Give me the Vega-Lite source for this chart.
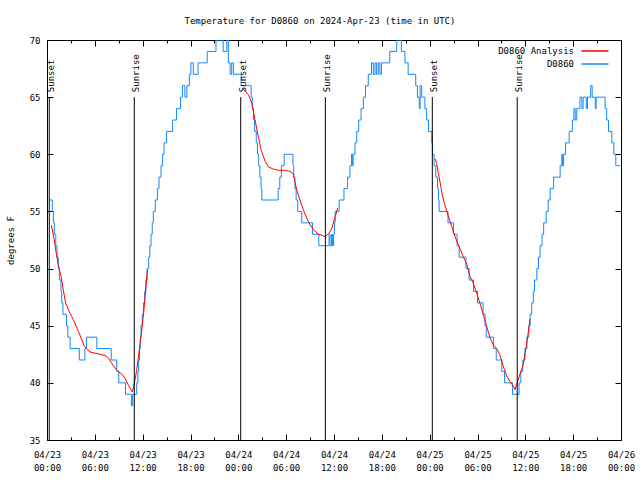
{
  "$schema": "https://vega.github.io/schema/vega-lite/v6.json",
  "width": 574,
  "height": 400,
  "autosize": {"type": "none"},
  "padding": {"left": 47, "top": 40, "right": 19, "bottom": 40},
  "background": "white",
  "title": {"text": "Temperature for D0860 on 2024-Apr-23 (time in UTC)", "font": "DejaVu Sans Mono", "fontSize": 9, "fontWeight": "normal", "color": "black", "anchor": "middle", "baseline": "alphabetic", "offset": 3, "dx": -14},
  "config": {
    "font": "DejaVu Sans Mono",
    "view": {"stroke": "black", "strokeWidth": 1},
    "axis": {"grid": false, "domain": false, "labelFont": "DejaVu Sans Mono", "labelFontSize": 9, "labelColor": "black", "tickColor": "black", "tickWidth": 1, "titleFont": "DejaVu Sans Mono", "titleFontSize": 9, "titleFontWeight": "normal", "titleColor": "black"},
    "legend": {"symbolType": "M-2.7,0H2.7", "symbolSize": 100, "symbolStrokeWidth": 1.5, "labelFont": "DejaVu Sans Mono", "labelFontSize": 9, "labelColor": "black", "padding": 0, "labelAlign": "right", "labelOffset": -27, "rowPadding": 2}
  },
  "datasets": {
    "obs": [
      {"time": "2024-04-23T00:20:00Z", "temp": 56}, {"time": "2024-04-23T00:40:00Z", "temp": 55}, {"time": "2024-04-23T00:48:00Z", "temp": 54}, {"time": "2024-04-23T00:55:00Z", "temp": 53},
      {"time": "2024-04-23T01:06:00Z", "temp": 52}, {"time": "2024-04-23T01:15:00Z", "temp": 51}, {"time": "2024-04-23T01:25:00Z", "temp": 50}, {"time": "2024-04-23T01:33:00Z", "temp": 49},
      {"time": "2024-04-23T01:45:00Z", "temp": 48}, {"time": "2024-04-23T01:51:00Z", "temp": 47}, {"time": "2024-04-23T02:00:00Z", "temp": 46}, {"time": "2024-04-23T02:27:00Z", "temp": 45},
      {"time": "2024-04-23T02:37:00Z", "temp": 44}, {"time": "2024-04-23T02:54:00Z", "temp": 43}, {"time": "2024-04-23T04:03:00Z", "temp": 42}, {"time": "2024-04-23T04:45:00Z", "temp": 43},
      {"time": "2024-04-23T04:57:00Z", "temp": 44}, {"time": "2024-04-23T06:15:00Z", "temp": 43}, {"time": "2024-04-23T08:03:00Z", "temp": 42}, {"time": "2024-04-23T08:45:00Z", "temp": 41},
      {"time": "2024-04-23T09:00:00Z", "temp": 40}, {"time": "2024-04-23T09:51:00Z", "temp": 39}, {"time": "2024-04-23T10:36:00Z", "temp": 38}, {"time": "2024-04-23T10:45:00Z", "temp": 39},
      {"time": "2024-04-23T11:15:00Z", "temp": 40}, {"time": "2024-04-23T11:24:00Z", "temp": 41}, {"time": "2024-04-23T11:30:00Z", "temp": 42}, {"time": "2024-04-23T11:36:00Z", "temp": 43},
      {"time": "2024-04-23T11:42:00Z", "temp": 44}, {"time": "2024-04-23T11:48:00Z", "temp": 45}, {"time": "2024-04-23T11:57:00Z", "temp": 46}, {"time": "2024-04-23T12:06:00Z", "temp": 47},
      {"time": "2024-04-23T12:15:00Z", "temp": 48}, {"time": "2024-04-23T12:24:00Z", "temp": 49}, {"time": "2024-04-23T12:33:00Z", "temp": 50}, {"time": "2024-04-23T12:45:00Z", "temp": 51},
      {"time": "2024-04-23T12:54:00Z", "temp": 52}, {"time": "2024-04-23T13:03:00Z", "temp": 53}, {"time": "2024-04-23T13:12:00Z", "temp": 54}, {"time": "2024-04-23T13:20:00Z", "temp": 55},
      {"time": "2024-04-23T13:35:00Z", "temp": 56}, {"time": "2024-04-23T13:51:00Z", "temp": 57}, {"time": "2024-04-23T14:03:00Z", "temp": 58}, {"time": "2024-04-23T14:18:00Z", "temp": 59},
      {"time": "2024-04-23T14:30:00Z", "temp": 60}, {"time": "2024-04-23T14:41:00Z", "temp": 61}, {"time": "2024-04-23T15:00:00Z", "temp": 62}, {"time": "2024-04-23T15:45:00Z", "temp": 63},
      {"time": "2024-04-23T16:15:00Z", "temp": 64}, {"time": "2024-04-23T16:45:00Z", "temp": 65}, {"time": "2024-04-23T16:59:00Z", "temp": 66}, {"time": "2024-04-23T17:18:00Z", "temp": 65},
      {"time": "2024-04-23T17:33:00Z", "temp": 66}, {"time": "2024-04-23T17:51:00Z", "temp": 67}, {"time": "2024-04-23T18:03:00Z", "temp": 68}, {"time": "2024-04-23T18:21:00Z", "temp": 67},
      {"time": "2024-04-23T18:57:00Z", "temp": 68}, {"time": "2024-04-23T20:06:00Z", "temp": 69}, {"time": "2024-04-23T21:12:00Z", "temp": 70}, {"time": "2024-04-23T22:06:00Z", "temp": 69},
      {"time": "2024-04-23T22:33:00Z", "temp": 70}, {"time": "2024-04-23T22:45:00Z", "temp": 68}, {"time": "2024-04-23T22:58:00Z", "temp": 67}, {"time": "2024-04-23T23:10:00Z", "temp": 68},
      {"time": "2024-04-23T23:23:00Z", "temp": 67},
      {"time": "2024-04-24T00:21:00Z", "temp": 66}, {"time": "2024-04-24T01:36:00Z", "temp": 65}, {"time": "2024-04-24T01:45:00Z", "temp": 64}, {"time": "2024-04-24T01:54:00Z", "temp": 63},
      {"time": "2024-04-24T02:03:00Z", "temp": 62}, {"time": "2024-04-24T02:15:00Z", "temp": 61}, {"time": "2024-04-24T02:24:00Z", "temp": 60}, {"time": "2024-04-24T02:33:00Z", "temp": 59},
      {"time": "2024-04-24T02:42:00Z", "temp": 58}, {"time": "2024-04-24T02:51:00Z", "temp": 57}, {"time": "2024-04-24T02:57:00Z", "temp": 56}, {"time": "2024-04-24T05:00:00Z", "temp": 57},
      {"time": "2024-04-24T05:12:00Z", "temp": 58}, {"time": "2024-04-24T05:24:00Z", "temp": 59}, {"time": "2024-04-24T05:45:00Z", "temp": 60}, {"time": "2024-04-24T06:51:00Z", "temp": 59},
      {"time": "2024-04-24T06:57:00Z", "temp": 58}, {"time": "2024-04-24T07:06:00Z", "temp": 57}, {"time": "2024-04-24T07:15:00Z", "temp": 56}, {"time": "2024-04-24T07:27:00Z", "temp": 55},
      {"time": "2024-04-24T07:57:00Z", "temp": 54}, {"time": "2024-04-24T09:18:00Z", "temp": 53}, {"time": "2024-04-24T10:06:00Z", "temp": 52}, {"time": "2024-04-24T11:23:00Z", "temp": 53},
      {"time": "2024-04-24T11:30:00Z", "temp": 52}, {"time": "2024-04-24T11:42:00Z", "temp": 53}, {"time": "2024-04-24T11:49:00Z", "temp": 52}, {"time": "2024-04-24T11:57:00Z", "temp": 53},
      {"time": "2024-04-24T12:03:00Z", "temp": 54}, {"time": "2024-04-24T12:09:00Z", "temp": 55}, {"time": "2024-04-24T12:39:00Z", "temp": 56}, {"time": "2024-04-24T13:15:00Z", "temp": 57},
      {"time": "2024-04-24T13:42:00Z", "temp": 58}, {"time": "2024-04-24T14:00:00Z", "temp": 59}, {"time": "2024-04-24T14:12:00Z", "temp": 60}, {"time": "2024-04-24T14:18:00Z", "temp": 59},
      {"time": "2024-04-24T14:24:00Z", "temp": 60}, {"time": "2024-04-24T14:38:00Z", "temp": 61}, {"time": "2024-04-24T14:51:00Z", "temp": 62}, {"time": "2024-04-24T15:06:00Z", "temp": 63},
      {"time": "2024-04-24T15:24:00Z", "temp": 64}, {"time": "2024-04-24T15:41:00Z", "temp": 65}, {"time": "2024-04-24T15:57:00Z", "temp": 66}, {"time": "2024-04-24T16:18:00Z", "temp": 67},
      {"time": "2024-04-24T16:42:00Z", "temp": 68}, {"time": "2024-04-24T16:56:00Z", "temp": 67}, {"time": "2024-04-24T17:09:00Z", "temp": 68}, {"time": "2024-04-24T17:21:00Z", "temp": 67},
      {"time": "2024-04-24T17:33:00Z", "temp": 68}, {"time": "2024-04-24T17:45:00Z", "temp": 67}, {"time": "2024-04-24T17:57:00Z", "temp": 68}, {"time": "2024-04-24T19:00:00Z", "temp": 69},
      {"time": "2024-04-24T19:52:00Z", "temp": 70}, {"time": "2024-04-24T20:27:00Z", "temp": 69}, {"time": "2024-04-24T20:54:00Z", "temp": 68}, {"time": "2024-04-24T21:18:00Z", "temp": 67},
      {"time": "2024-04-24T22:15:00Z", "temp": 66}, {"time": "2024-04-24T22:28:00Z", "temp": 65}, {"time": "2024-04-24T22:42:00Z", "temp": 64}, {"time": "2024-04-24T22:48:00Z", "temp": 66},
      {"time": "2024-04-24T23:00:00Z", "temp": 65}, {"time": "2024-04-24T23:24:00Z", "temp": 64}, {"time": "2024-04-24T23:37:00Z", "temp": 63}, {"time": "2024-04-24T23:51:00Z", "temp": 62},
      {"time": "2024-04-25T00:16:00Z", "temp": 61}, {"time": "2024-04-25T00:21:00Z", "temp": 60}, {"time": "2024-04-25T00:33:00Z", "temp": 59}, {"time": "2024-04-25T00:46:00Z", "temp": 58},
      {"time": "2024-04-25T00:59:00Z", "temp": 57}, {"time": "2024-04-25T01:06:00Z", "temp": 56}, {"time": "2024-04-25T01:11:00Z", "temp": 55}, {"time": "2024-04-25T02:18:00Z", "temp": 54},
      {"time": "2024-04-25T03:00:00Z", "temp": 53}, {"time": "2024-04-25T03:27:00Z", "temp": 52}, {"time": "2024-04-25T03:42:00Z", "temp": 51}, {"time": "2024-04-25T04:33:00Z", "temp": 50},
      {"time": "2024-04-25T04:57:00Z", "temp": 49}, {"time": "2024-04-25T05:30:00Z", "temp": 48}, {"time": "2024-04-25T06:00:00Z", "temp": 47}, {"time": "2024-04-25T06:42:00Z", "temp": 46},
      {"time": "2024-04-25T06:57:00Z", "temp": 45}, {"time": "2024-04-25T07:06:00Z", "temp": 44}, {"time": "2024-04-25T08:00:00Z", "temp": 43}, {"time": "2024-04-25T08:21:00Z", "temp": 42},
      {"time": "2024-04-25T09:03:00Z", "temp": 41}, {"time": "2024-04-25T09:24:00Z", "temp": 40}, {"time": "2024-04-25T10:24:00Z", "temp": 39}, {"time": "2024-04-25T11:13:00Z", "temp": 40},
      {"time": "2024-04-25T11:26:00Z", "temp": 41}, {"time": "2024-04-25T11:41:00Z", "temp": 42}, {"time": "2024-04-25T11:57:00Z", "temp": 43}, {"time": "2024-04-25T12:12:00Z", "temp": 44},
      {"time": "2024-04-25T12:27:00Z", "temp": 45}, {"time": "2024-04-25T12:36:00Z", "temp": 46}, {"time": "2024-04-25T12:48:00Z", "temp": 47}, {"time": "2024-04-25T13:00:00Z", "temp": 48},
      {"time": "2024-04-25T13:09:00Z", "temp": 49}, {"time": "2024-04-25T13:27:00Z", "temp": 50}, {"time": "2024-04-25T13:39:00Z", "temp": 51}, {"time": "2024-04-25T13:51:00Z", "temp": 52},
      {"time": "2024-04-25T14:06:00Z", "temp": 53}, {"time": "2024-04-25T14:18:00Z", "temp": 54}, {"time": "2024-04-25T14:37:00Z", "temp": 55}, {"time": "2024-04-25T14:52:00Z", "temp": 56},
      {"time": "2024-04-25T15:07:00Z", "temp": 57}, {"time": "2024-04-25T15:33:00Z", "temp": 58}, {"time": "2024-04-25T16:22:00Z", "temp": 59}, {"time": "2024-04-25T16:35:00Z", "temp": 60},
      {"time": "2024-04-25T16:39:00Z", "temp": 59}, {"time": "2024-04-25T16:48:00Z", "temp": 60}, {"time": "2024-04-25T17:03:00Z", "temp": 61}, {"time": "2024-04-25T17:30:00Z", "temp": 62},
      {"time": "2024-04-25T17:54:00Z", "temp": 63}, {"time": "2024-04-25T18:06:00Z", "temp": 64}, {"time": "2024-04-25T18:15:00Z", "temp": 63}, {"time": "2024-04-25T18:27:00Z", "temp": 64},
      {"time": "2024-04-25T18:51:00Z", "temp": 65}, {"time": "2024-04-25T19:06:00Z", "temp": 64}, {"time": "2024-04-25T19:15:00Z", "temp": 65}, {"time": "2024-04-25T19:39:00Z", "temp": 64},
      {"time": "2024-04-25T19:48:00Z", "temp": 65}, {"time": "2024-04-25T20:12:00Z", "temp": 66}, {"time": "2024-04-25T20:23:00Z", "temp": 65}, {"time": "2024-04-25T20:46:00Z", "temp": 64},
      {"time": "2024-04-25T20:53:00Z", "temp": 65}, {"time": "2024-04-25T22:00:00Z", "temp": 64}, {"time": "2024-04-25T22:12:00Z", "temp": 63}, {"time": "2024-04-25T22:26:00Z", "temp": 62},
      {"time": "2024-04-25T22:51:00Z", "temp": 61}, {"time": "2024-04-25T23:06:00Z", "temp": 60}, {"time": "2024-04-25T23:21:00Z", "temp": 59}, {"time": "2024-04-25T23:54:00Z", "temp": 59}
    ],
    "ana": [
      {"time": "2024-04-23T00:33:00Z", "temp": 53.8, "night": 1}, {"time": "2024-04-23T00:55:00Z", "temp": 52.5, "night": 1}, {"time": "2024-04-23T01:10:00Z", "temp": 51.3, "night": 1},
      {"time": "2024-04-23T01:25:00Z", "temp": 50.3, "night": 1}, {"time": "2024-04-23T01:46:00Z", "temp": 49.3, "night": 1}, {"time": "2024-04-23T02:03:00Z", "temp": 48.1, "night": 1},
      {"time": "2024-04-23T02:20:00Z", "temp": 47.0, "night": 1}, {"time": "2024-04-23T02:41:00Z", "temp": 46.4, "night": 1}, {"time": "2024-04-23T03:06:00Z", "temp": 45.8, "night": 1},
      {"time": "2024-04-23T03:31:00Z", "temp": 45.2, "night": 1}, {"time": "2024-04-23T03:56:00Z", "temp": 44.5, "night": 1}, {"time": "2024-04-23T04:21:00Z", "temp": 43.8, "night": 1},
      {"time": "2024-04-23T04:41:00Z", "temp": 43.2, "night": 1}, {"time": "2024-04-23T04:59:00Z", "temp": 43.0, "night": 1}, {"time": "2024-04-23T05:24:00Z", "temp": 42.7, "night": 1},
      {"time": "2024-04-23T06:01:00Z", "temp": 42.6, "night": 1}, {"time": "2024-04-23T06:39:00Z", "temp": 42.5, "night": 1}, {"time": "2024-04-23T07:17:00Z", "temp": 42.4, "night": 1},
      {"time": "2024-04-23T07:41:00Z", "temp": 42.2, "night": 1}, {"time": "2024-04-23T08:07:00Z", "temp": 41.7, "night": 1}, {"time": "2024-04-23T08:32:00Z", "temp": 41.3, "night": 1},
      {"time": "2024-04-23T08:52:00Z", "temp": 41.0, "night": 1}, {"time": "2024-04-23T09:22:00Z", "temp": 40.8, "night": 1}, {"time": "2024-04-23T09:47:00Z", "temp": 40.4, "night": 1},
      {"time": "2024-04-23T10:12:00Z", "temp": 39.8, "night": 1}, {"time": "2024-04-23T10:32:00Z", "temp": 39.4, "night": 1}, {"time": "2024-04-23T10:43:00Z", "temp": 39.2, "night": 1},
      {"time": "2024-04-23T10:58:00Z", "temp": 40.0, "night": 1}, {"time": "2024-04-23T11:15:00Z", "temp": 41.1, "night": 1}, {"time": "2024-04-23T11:35:00Z", "temp": 42.9, "night": 1},
      {"time": "2024-04-23T11:53:00Z", "temp": 44.6, "night": 1}, {"time": "2024-04-23T12:08:00Z", "temp": 46.2, "night": 1}, {"time": "2024-04-23T12:24:00Z", "temp": 48.3, "night": 1},
      {"time": "2024-04-23T12:36:00Z", "temp": 49.9, "night": 1},
      {"time": "2024-04-24T00:33:00Z", "temp": 65.8, "night": 2}, {"time": "2024-04-24T01:16:00Z", "temp": 65.2, "night": 2}, {"time": "2024-04-24T01:41:00Z", "temp": 64.5, "night": 2},
      {"time": "2024-04-24T02:06:00Z", "temp": 63.0, "night": 2}, {"time": "2024-04-24T02:31:00Z", "temp": 61.5, "night": 2}, {"time": "2024-04-24T02:51:00Z", "temp": 60.4, "night": 2},
      {"time": "2024-04-24T03:21:00Z", "temp": 59.4, "night": 2}, {"time": "2024-04-24T03:46:00Z", "temp": 58.9, "night": 2}, {"time": "2024-04-24T04:24:00Z", "temp": 58.7, "night": 2},
      {"time": "2024-04-24T05:01:00Z", "temp": 58.6, "night": 2}, {"time": "2024-04-24T05:52:00Z", "temp": 58.6, "night": 2}, {"time": "2024-04-24T06:29:00Z", "temp": 58.5, "night": 2},
      {"time": "2024-04-24T06:54:00Z", "temp": 58.3, "night": 2}, {"time": "2024-04-24T07:02:00Z", "temp": 57.8, "night": 2}, {"time": "2024-04-24T07:19:00Z", "temp": 56.9, "night": 2},
      {"time": "2024-04-24T07:44:00Z", "temp": 56.0, "night": 2}, {"time": "2024-04-24T08:10:00Z", "temp": 55.1, "night": 2}, {"time": "2024-04-24T08:47:00Z", "temp": 54.1, "night": 2},
      {"time": "2024-04-24T09:25:00Z", "temp": 53.4, "night": 2}, {"time": "2024-04-24T10:02:00Z", "temp": 53.0, "night": 2}, {"time": "2024-04-24T10:32:00Z", "temp": 52.9, "night": 2},
      {"time": "2024-04-24T10:53:00Z", "temp": 52.8, "night": 2}, {"time": "2024-04-24T11:23:00Z", "temp": 53.1, "night": 2}, {"time": "2024-04-24T11:43:00Z", "temp": 53.5, "night": 2},
      {"time": "2024-04-24T12:08:00Z", "temp": 54.5, "night": 2}, {"time": "2024-04-24T12:28:00Z", "temp": 55.3, "night": 2},
      {"time": "2024-04-25T00:41:00Z", "temp": 59.6, "night": 3}, {"time": "2024-04-25T00:53:00Z", "temp": 59.2, "night": 3}, {"time": "2024-04-25T01:06:00Z", "temp": 58.3, "night": 3},
      {"time": "2024-04-25T01:19:00Z", "temp": 57.5, "night": 3}, {"time": "2024-04-25T01:31:00Z", "temp": 56.7, "night": 3}, {"time": "2024-04-25T01:44:00Z", "temp": 56.0, "night": 3},
      {"time": "2024-04-25T02:09:00Z", "temp": 55.0, "night": 3}, {"time": "2024-04-25T02:34:00Z", "temp": 54.1, "night": 3}, {"time": "2024-04-25T02:59:00Z", "temp": 53.2, "night": 3},
      {"time": "2024-04-25T03:24:00Z", "temp": 52.4, "night": 3}, {"time": "2024-04-25T03:49:00Z", "temp": 51.7, "night": 3}, {"time": "2024-04-25T04:14:00Z", "temp": 51.0, "night": 3},
      {"time": "2024-04-25T04:39:00Z", "temp": 50.4, "night": 3}, {"time": "2024-04-25T05:04:00Z", "temp": 49.3, "night": 3}, {"time": "2024-04-25T05:29:00Z", "temp": 48.7, "night": 3},
      {"time": "2024-04-25T05:55:00Z", "temp": 47.8, "night": 3}, {"time": "2024-04-25T06:20:00Z", "temp": 46.9, "night": 3}, {"time": "2024-04-25T06:45:00Z", "temp": 45.9, "night": 3},
      {"time": "2024-04-25T07:10:00Z", "temp": 44.9, "night": 3}, {"time": "2024-04-25T07:35:00Z", "temp": 43.9, "night": 3}, {"time": "2024-04-25T08:00:00Z", "temp": 43.3, "night": 3},
      {"time": "2024-04-25T08:25:00Z", "temp": 43.0, "night": 3}, {"time": "2024-04-25T08:50:00Z", "temp": 42.4, "night": 3}, {"time": "2024-04-25T09:15:00Z", "temp": 41.4, "night": 3},
      {"time": "2024-04-25T09:40:00Z", "temp": 40.6, "night": 3}, {"time": "2024-04-25T10:05:00Z", "temp": 40.1, "night": 3}, {"time": "2024-04-25T10:31:00Z", "temp": 39.7, "night": 3},
      {"time": "2024-04-25T10:43:00Z", "temp": 39.4, "night": 3}, {"time": "2024-04-25T11:01:00Z", "temp": 40.1, "night": 3}, {"time": "2024-04-25T11:21:00Z", "temp": 40.8, "night": 3},
      {"time": "2024-04-25T11:46:00Z", "temp": 41.7, "night": 3}, {"time": "2024-04-25T12:11:00Z", "temp": 43.5, "night": 3}, {"time": "2024-04-25T12:36:00Z", "temp": 45.6, "night": 3}
    ],
    "sun": [
      {"time": "2024-04-23T00:17:00Z", "event": "Sunset"},
      {"time": "2024-04-23T10:57:00Z", "event": "Sunrise"},
      {"time": "2024-04-24T00:18:00Z", "event": "Sunset"},
      {"time": "2024-04-24T10:55:00Z", "event": "Sunrise"},
      {"time": "2024-04-25T00:20:00Z", "event": "Sunset"},
      {"time": "2024-04-25T10:59:00Z", "event": "Sunrise"}
    ]
  },
  "layer": [
    {
      "data": {"name": "obs"},
      "mark": {"type": "line", "interpolate": "step-after", "strokeWidth": 1, "clip": true},
      "encoding": {
        "x": {"field": "time", "type": "temporal",
          "scale": {"type": "utc", "domain": [1713830400000, 1714089600000]},
          "axis": {"orient": "bottom", "title": null, "tickCount": 12, "labelExpr": "utcFormat(datum.value, '%m/%d')", "ticks": false, "labelPadding": 10, "labelBaseline": "top", "labelFlush": false, "labelOverlap": false, "labelBound": false}},
        "y": {"field": "temp", "type": "quantitative",
          "scale": {"domain": [35, 70], "nice": false, "zero": false},
          "axis": {"orient": "left", "title": "degrees F", "values": [35, 40, 45, 50, 55, 60, 65, 70], "ticks": false, "labelPadding": 7, "titlePadding": 14}},
        "color": {"datum": "D0860", "type": "nominal",
          "scale": {"domain": ["D0860 Analysis", "D0860"], "range": ["#ff0000", "#0f88ff"]},
          "legend": {"title": null, "orient": "none", "legendX": 542, "legendY": 5}}
      }
    },
    {
      "data": {"name": "ana"},
      "mark": {"type": "line", "strokeWidth": 1, "clip": true},
      "encoding": {
        "x": {"field": "time", "type": "temporal", "axis": {"orient": "top", "title": null, "tickCount": 12, "labels": false, "tickSize": -6}},
        "y": {"field": "temp", "type": "quantitative", "axis": {"orient": "right", "title": null, "values": [35, 40, 45, 50, 55, 60, 65, 70], "labels": false, "tickSize": -6}},
        "detail": {"field": "night", "type": "nominal"},
        "color": {"datum": "D0860 Analysis", "type": "nominal"}
      }
    },
    {
      "data": {"name": "sun"},
      "mark": {"type": "rule", "color": "black", "strokeWidth": 1},
      "encoding": {
        "x": {"field": "time", "type": "temporal", "axis": {"orient": "bottom", "title": null, "tickCount": 36, "labels": false, "tickSize": -3}},
        "y": {"datum": 35, "type": "quantitative", "axis": {"orient": "left", "title": null, "values": [35, 40, 45, 50, 55, 60, 65, 70], "labels": false, "tickSize": -6}},
        "y2": {"datum": 65}
      }
    },
    {
      "data": {"name": "sun"},
      "mark": {"type": "text", "angle": 270, "align": "left", "baseline": "middle", "dx": 5, "dy": 2, "font": "DejaVu Sans Mono", "fontSize": 9, "color": "black"},
      "encoding": {
        "x": {"field": "time", "type": "temporal", "axis": {"orient": "top", "title": null, "tickCount": 36, "labels": false, "tickSize": -3}},
        "y": {"datum": 65, "type": "quantitative", "axis": null},
        "text": {"field": "event"}
      }
    },
    {
      "data": {"name": "sun"},
      "mark": {"type": "rule", "opacity": 0},
      "encoding": {
        "x": {"field": "time", "type": "temporal", "axis": {"orient": "bottom", "title": null, "tickCount": 12, "labels": false, "tickSize": -6}},
        "y": {"datum": 35, "type": "quantitative", "axis": null}
      }
    },
    {
      "data": {"name": "sun"},
      "mark": {"type": "rule", "opacity": 0},
      "encoding": {
        "x": {"field": "time", "type": "temporal", "axis": {"orient": "bottom", "title": null, "tickCount": 12, "labelExpr": "utcFormat(datum.value, '%H:%M')", "ticks": false, "labelPadding": 23, "labelBaseline": "top", "labelFlush": false, "labelOverlap": false, "labelBound": false}},
        "y": {"datum": 35, "type": "quantitative", "axis": null}
      }
    }
  ],
  "resolve": {"axis": {"x": "independent", "y": "independent"}}
}
